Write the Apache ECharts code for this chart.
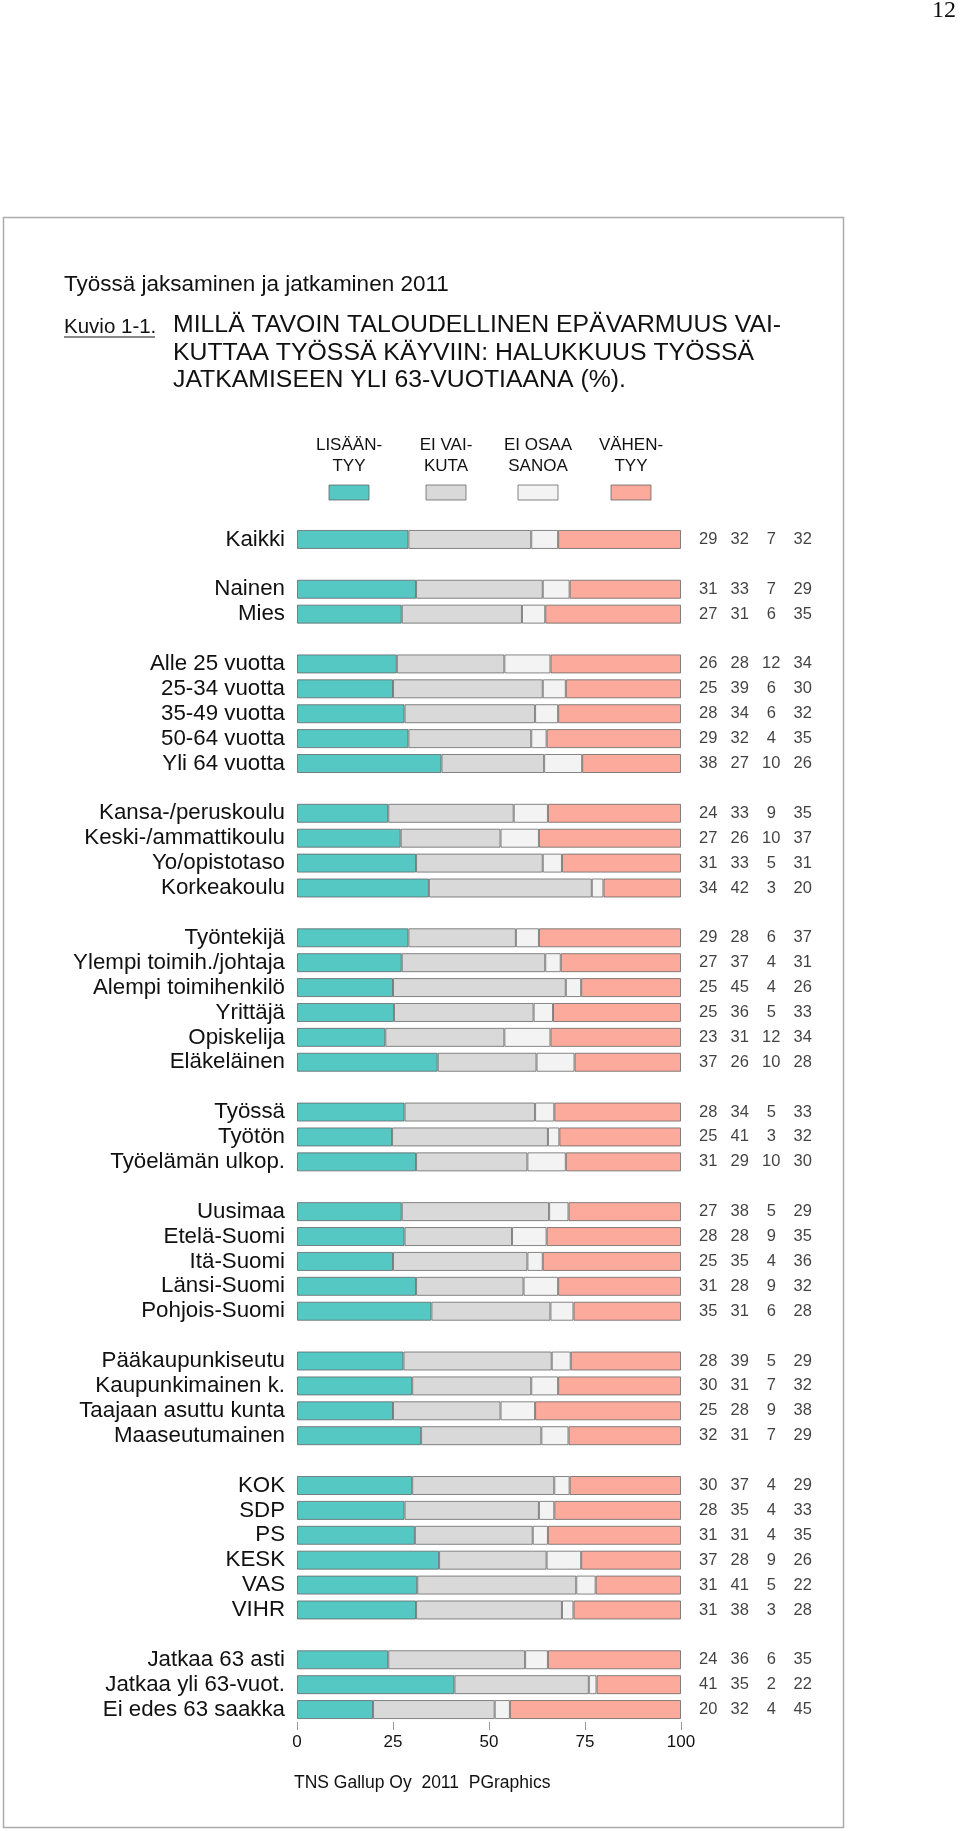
<!DOCTYPE html>
<html>
<head>
<meta charset="utf-8">
<script src="https://cdn.jsdelivr.net/npm/echarts@6/dist/echarts.min.js"></script>
<style>
  html, body { margin: 0; padding: 0; background: #fff; }
  #chart { width: 960px; height: 1831px; }
</style>
</head>
<body>
<div id="chart"></div>
<script>
// ---- data ----
const seriesNames = ['LISÄÄNTYY', 'EI VAIKUTA', 'EI OSAA SANOA', 'VÄHENTYY'];
const legendLabels = ['LISÄÄN-\nTYY', 'EI VAI-\nKUTA', 'EI OSAA\nSANOA', 'VÄHEN-\nTYY'];
const categories = [
  'Kaikki', '',
  'Nainen', 'Mies', '',
  'Alle 25 vuotta', '25-34 vuotta', '35-49 vuotta', '50-64 vuotta', 'Yli 64 vuotta', '',
  'Kansa-/peruskoulu', 'Keski-/ammattikoulu', 'Yo/opistotaso', 'Korkeakoulu', '',
  'Työntekijä', 'Ylempi toimih./johtaja', 'Alempi toimihenkilö', 'Yrittäjä', 'Opiskelija', 'Eläkeläinen', '',
  'Työssä', 'Työtön', 'Työelämän ulkop.', '',
  'Uusimaa', 'Etelä-Suomi', 'Itä-Suomi', 'Länsi-Suomi', 'Pohjois-Suomi', '',
  'Pääkaupunkiseutu', 'Kaupunkimainen k.', 'Taajaan asuttu kunta', 'Maaseutumainen', '',
  'KOK', 'SDP', 'PS', 'KESK', 'VAS', 'VIHR', '',
  'Jatkaa 63 asti', 'Jatkaa yli 63-vuot.', 'Ei edes 63 saakka'
];
const lisaantyy = [
  29, null,
  31, 27, null,
  26, 25, 28, 29, 38, null,
  24, 27, 31, 34, null,
  29, 27, 25, 25, 23, 37, null,
  28, 25, 31, null,
  27, 28, 25, 31, 35, null,
  28, 30, 25, 32, null,
  30, 28, 31, 37, 31, 31, null,
  24, 41, 20
];
const eiVaikuta = [
  32, null,
  33, 31, null,
  28, 39, 34, 32, 27, null,
  33, 26, 33, 42, null,
  28, 37, 45, 36, 31, 26, null,
  34, 41, 29, null,
  38, 28, 35, 28, 31, null,
  39, 31, 28, 31, null,
  37, 35, 31, 28, 41, 38, null,
  36, 35, 32
];
const eiOsaa = [
  7, null,
  7, 6, null,
  12, 6, 6, 4, 10, null,
  9, 10, 5, 3, null,
  6, 4, 4, 5, 12, 10, null,
  5, 3, 10, null,
  5, 9, 4, 9, 6, null,
  5, 7, 9, 7, null,
  4, 4, 4, 9, 5, 3, null,
  6, 2, 4
];
const vahentyy = [
  32, null,
  29, 35, null,
  34, 30, 32, 35, 26, null,
  35, 37, 31, 20, null,
  37, 31, 26, 33, 34, 28, null,
  33, 32, 30, null,
  29, 35, 36, 32, 28, null,
  29, 32, 38, 29, null,
  29, 33, 35, 26, 22, 28, null,
  35, 22, 45
];
const xTicks = [0, 25, 50, 75, 100];

// ---- build ----
const colors = ['#56C8C4', '#D9D9D9', '#F3F3F3', '#FBAA9B'];
const allSeries = [lisaantyy, eiVaikuta, eiOsaa, vahentyy];
// 100% stacked: each row is drawn as share of its row total (printed values are rounded)
const rowTotals = categories.map((c, i) => allSeries.reduce((s, arr) => s + (arr[i] || 0), 0));
// unique blank names so blank rows never collapse
const yCats = categories.map((c, i) => c === '' ? ' '.repeat(i + 1) : c);
const FONT = "'Liberation Sans', Arial, Helvetica, sans-serif";

const GRID_TOP = 527, GRID_H = 1195;
const BORDER = 'rgba(95,95,95,0.75)';

const barSeries = allSeries.map((arr, k) => ({
  name: seriesNames[k],
  type: 'bar',
  stack: 'total',
  xAxisIndex: 0,
  yAxisIndex: 0,
  barWidth: 19,
  data: arr.map((v, i) => v === null ? null : v / rowTotals[i] * 100),
  itemStyle: { color: colors[k], borderColor: BORDER, borderWidth: 1 },
  emphasis: { disabled: true },
  silent: true
}));

const valuePoints = [];
allSeries.forEach((arr, k) => {
  arr.forEach((v, i) => { if (v !== null) valuePoints.push([k, i, v]); });
});

const chart = echarts.init(document.getElementById('chart'), null, { renderer: 'canvas' });

const legendX = [349, 446, 538, 631];
const graphics = [
  { type: 'rect', shape: { x: 3.5, y: 217.5, width: 840, height: 1610 },
    style: { fill: 'none', stroke: '#ababab', lineWidth: 1.5 }, silent: true },
  { type: 'text', x: 956, y: 11, style: { text: '12', font: "24px 'Liberation Serif', 'Times New Roman', serif",
      fill: '#111', textAlign: 'right', textVerticalAlign: 'middle' } },
  { type: 'text', x: 64, y: 285, style: { text: 'Työssä jaksaminen ja jatkaminen 2011', font: '22.5px ' + FONT,
      fill: '#111', textAlign: 'left', textVerticalAlign: 'middle' } },
  { type: 'text', x: 64, y: 327, style: { text: 'Kuvio 1-1.', font: '20.5px ' + FONT,
      fill: '#111', textAlign: 'left', textVerticalAlign: 'middle' } },
  { type: 'line', shape: { x1: 64, y1: 337, x2: 155, y2: 337 }, style: { stroke: '#111', lineWidth: 1.2 } },
  { type: 'text', x: 173, y: 312, style: { text: 'MILLÄ TAVOIN TALOUDELLINEN EPÄVARMUUS VAI-\nKUTTAA TYÖSSÄ KÄYVIIN: HALUKKUUS TYÖSSÄ\nJATKAMISEEN YLI 63-VUOTIAANA (%).',
      font: '24.8px ' + FONT, lineHeight: 27.3, fill: '#111', textAlign: 'left', textVerticalAlign: 'top' } },
  { type: 'text', x: 294, y: 1783, style: { text: 'TNS Gallup Oy  2011  PGraphics', font: '17.5px ' + FONT,
      fill: '#111', textAlign: 'left', textVerticalAlign: 'middle' } }
];
legendLabels.forEach((t, k) => {
  graphics.push({ type: 'text', x: legendX[k], y: 434.5, style: { text: t, font: '17px ' + FONT, lineHeight: 21,
    fill: '#111', textAlign: 'center', textVerticalAlign: 'top' } });
  graphics.push({ type: 'rect', shape: { x: legendX[k] - 20, y: 485, width: 40, height: 15 },
    style: { fill: colors[k], stroke: BORDER, lineWidth: 1 } });
});

chart.setOption({
  animation: false,
  backgroundColor: '#fff',
  textStyle: { fontFamily: FONT },
  grid: [
    { left: 297, width: 384, top: GRID_TOP, height: GRID_H, containLabel: false },
    { left: 692.5, width: 126, top: GRID_TOP, height: GRID_H, containLabel: false }
  ],
  xAxis: [
    { type: 'value', gridIndex: 0, min: 0, max: 100, interval: 25,
      splitLine: { show: false },
      axisLine: { show: false },
      axisTick: { show: true, length: 8, lineStyle: { color: '#9a9a9a', width: 1 } },
      axisLabel: { fontSize: 17, color: '#111', margin: 12, fontFamily: FONT,
        formatter: v => xTicks.indexOf(v) >= 0 ? String(v) : '' } },
    { type: 'category', gridIndex: 1, data: seriesNames, show: false }
  ],
  yAxis: [
    { type: 'category', gridIndex: 0, data: yCats, inverse: true,
      axisLine: { show: false }, axisTick: { show: false }, splitLine: { show: false },
      axisLabel: { fontSize: 22.3, color: '#111', margin: 12, fontFamily: FONT, interval: 0 } },
    { type: 'category', gridIndex: 1, data: yCats, inverse: true, show: false }
  ],
  series: barSeries.concat([{
    type: 'scatter',
    xAxisIndex: 1,
    yAxisIndex: 1,
    symbolSize: 0,
    data: valuePoints,
    silent: true,
    label: { show: true, position: 'inside', formatter: p => String(p.value[2]),
      fontSize: 16.5, color: '#111', fontFamily: FONT }
  }]),
  graphic: graphics
});
</script>
</body>
</html>
